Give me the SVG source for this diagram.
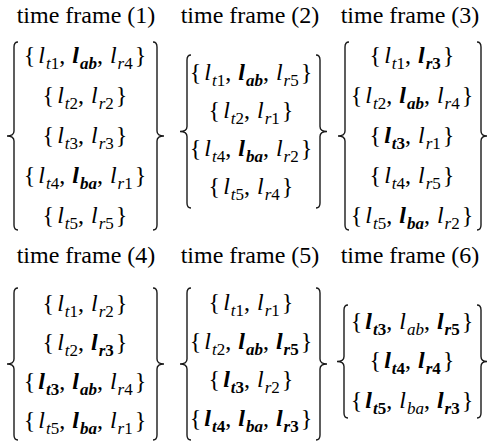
<svg xmlns="http://www.w3.org/2000/svg" width="489" height="443" viewBox="0 0 489 443">
<style>
.t{font-family:"Liberation Serif","Times New Roman",serif;font-size:24px;fill:#000;text-anchor:middle}
.i{font-style:italic}
.b{font-weight:bold}
.s{font-size:17px}
.br{fill:none;stroke:#1a1a1a;stroke-width:1.4}
</style>
<rect width="489" height="443" fill="#fff"/>
<g id="frame1">
<text class="t" x="86" y="23">time frame (1)</text>
<path class="br" d="M18 42 Q14 42 14 47 L14 131 Q14 136 7 136 Q14 136 14 141 L14 225 Q14 230 18 230"/>
<path class="br" d="M153 42 Q157 42 157 47 L157 131 Q157 136 164 136 Q157 136 157 141 L157 225 Q157 230 153 230"/>
<text class="t" x="85" y="63">{<tspan class="i" dx="3">l</tspan><tspan class="s i" dx="1" dy="6">t</tspan><tspan class="s">1</tspan><tspan dy="-6">,</tspan><tspan class="i b" dx="7">l</tspan><tspan class="s i b" dx="1" dy="6">ab</tspan><tspan dy="-6">,</tspan><tspan class="i" dx="7">l</tspan><tspan class="s i" dx="1" dy="6">r</tspan><tspan class="s">4</tspan><tspan dy="-6" dx="2">}</tspan></text>
<text class="t" x="85" y="103">{<tspan class="i" dx="3">l</tspan><tspan class="s i" dx="1" dy="6">t</tspan><tspan class="s">2</tspan><tspan dy="-6">,</tspan><tspan class="i" dx="7">l</tspan><tspan class="s i" dx="1" dy="6">r</tspan><tspan class="s">2</tspan><tspan dy="-6" dx="2">}</tspan></text>
<text class="t" x="85" y="143">{<tspan class="i" dx="3">l</tspan><tspan class="s i" dx="1" dy="6">t</tspan><tspan class="s">3</tspan><tspan dy="-6">,</tspan><tspan class="i" dx="7">l</tspan><tspan class="s i" dx="1" dy="6">r</tspan><tspan class="s">3</tspan><tspan dy="-6" dx="2">}</tspan></text>
<text class="t" x="85" y="183">{<tspan class="i" dx="3">l</tspan><tspan class="s i" dx="1" dy="6">t</tspan><tspan class="s">4</tspan><tspan dy="-6">,</tspan><tspan class="i b" dx="7">l</tspan><tspan class="s i b" dx="1" dy="6">ba</tspan><tspan dy="-6">,</tspan><tspan class="i" dx="7">l</tspan><tspan class="s i" dx="1" dy="6">r</tspan><tspan class="s">1</tspan><tspan dy="-6" dx="2">}</tspan></text>
<text class="t" x="85" y="223">{<tspan class="i" dx="3">l</tspan><tspan class="s i" dx="1" dy="6">t</tspan><tspan class="s">5</tspan><tspan dy="-6">,</tspan><tspan class="i" dx="7">l</tspan><tspan class="s i" dx="1" dy="6">r</tspan><tspan class="s">5</tspan><tspan dy="-6" dx="2">}</tspan></text>
</g>
<g id="frame2">
<text class="t" x="250" y="23">time frame (2)</text>
<path class="br" d="M191 55 Q187 55 187 60 L187 126.5 Q187 131.5 180 131.5 Q187 131.5 187 136.5 L187 203 Q187 208 191 208"/>
<path class="br" d="M316 55 Q320 55 320 60 L320 126.5 Q320 131.5 327 131.5 Q320 131.5 320 136.5 L320 203 Q320 208 316 208"/>
<text class="t" x="251" y="80">{<tspan class="i" dx="3">l</tspan><tspan class="s i" dx="1" dy="6">t</tspan><tspan class="s">1</tspan><tspan dy="-6">,</tspan><tspan class="i b" dx="7">l</tspan><tspan class="s i b" dx="1" dy="6">ab</tspan><tspan dy="-6">,</tspan><tspan class="i" dx="7">l</tspan><tspan class="s i" dx="1" dy="6">r</tspan><tspan class="s">5</tspan><tspan dy="-6" dx="2">}</tspan></text>
<text class="t" x="251" y="118">{<tspan class="i" dx="3">l</tspan><tspan class="s i" dx="1" dy="6">t</tspan><tspan class="s">2</tspan><tspan dy="-6">,</tspan><tspan class="i" dx="7">l</tspan><tspan class="s i" dx="1" dy="6">r</tspan><tspan class="s">1</tspan><tspan dy="-6" dx="2">}</tspan></text>
<text class="t" x="251" y="156">{<tspan class="i" dx="3">l</tspan><tspan class="s i" dx="1" dy="6">t</tspan><tspan class="s">4</tspan><tspan dy="-6">,</tspan><tspan class="i b" dx="7">l</tspan><tspan class="s i b" dx="1" dy="6">ba</tspan><tspan dy="-6">,</tspan><tspan class="i" dx="7">l</tspan><tspan class="s i" dx="1" dy="6">r</tspan><tspan class="s">2</tspan><tspan dy="-6" dx="2">}</tspan></text>
<text class="t" x="251" y="194">{<tspan class="i" dx="3">l</tspan><tspan class="s i" dx="1" dy="6">t</tspan><tspan class="s">5</tspan><tspan dy="-6">,</tspan><tspan class="i" dx="7">l</tspan><tspan class="s i" dx="1" dy="6">r</tspan><tspan class="s">4</tspan><tspan dy="-6" dx="2">}</tspan></text>
</g>
<g id="frame3">
<text class="t" x="410" y="23">time frame (3)</text>
<path class="br" d="M349 42 Q345 42 345 47 L345 131 Q345 136 338 136 Q345 136 345 141 L345 225 Q345 230 349 230"/>
<path class="br" d="M477 42 Q481 42 481 47 L481 131 Q481 136 487 136 Q481 136 481 141 L481 225 Q481 230 477 230"/>
<text class="t" x="412" y="63">{<tspan class="i" dx="3">l</tspan><tspan class="s i" dx="1" dy="6">t</tspan><tspan class="s">1</tspan><tspan dy="-6">,</tspan><tspan class="i b" dx="7">l</tspan><tspan class="s i b" dx="1" dy="6">r</tspan><tspan class="s b">3</tspan><tspan dy="-6" dx="2">}</tspan></text>
<text class="t" x="412" y="103">{<tspan class="i" dx="3">l</tspan><tspan class="s i" dx="1" dy="6">t</tspan><tspan class="s">2</tspan><tspan dy="-6">,</tspan><tspan class="i b" dx="7">l</tspan><tspan class="s i b" dx="1" dy="6">ab</tspan><tspan dy="-6">,</tspan><tspan class="i" dx="7">l</tspan><tspan class="s i" dx="1" dy="6">r</tspan><tspan class="s">4</tspan><tspan dy="-6" dx="2">}</tspan></text>
<text class="t" x="412" y="143">{<tspan class="i b" dx="3">l</tspan><tspan class="s i b" dx="1" dy="6">t</tspan><tspan class="s b">3</tspan><tspan dy="-6">,</tspan><tspan class="i" dx="7">l</tspan><tspan class="s i" dx="1" dy="6">r</tspan><tspan class="s">1</tspan><tspan dy="-6" dx="2">}</tspan></text>
<text class="t" x="412" y="183">{<tspan class="i" dx="3">l</tspan><tspan class="s i" dx="1" dy="6">t</tspan><tspan class="s">4</tspan><tspan dy="-6">,</tspan><tspan class="i" dx="7">l</tspan><tspan class="s i" dx="1" dy="6">r</tspan><tspan class="s">5</tspan><tspan dy="-6" dx="2">}</tspan></text>
<text class="t" x="412" y="223">{<tspan class="i" dx="3">l</tspan><tspan class="s i" dx="1" dy="6">t</tspan><tspan class="s">5</tspan><tspan dy="-6">,</tspan><tspan class="i b" dx="7">l</tspan><tspan class="s i b" dx="1" dy="6">ba</tspan><tspan dy="-6">,</tspan><tspan class="i" dx="7">l</tspan><tspan class="s i" dx="1" dy="6">r</tspan><tspan class="s">2</tspan><tspan dy="-6" dx="2">}</tspan></text>
</g>
<g id="frame4">
<text class="t" x="86" y="263">time frame (4)</text>
<path class="br" d="M18 288 Q14 288 14 293 L14 359 Q14 364 7 364 Q14 364 14 369 L14 435 Q14 440 18 440"/>
<path class="br" d="M153 288 Q157 288 157 293 L157 359 Q157 364 164 364 Q157 364 157 369 L157 435 Q157 440 153 440"/>
<text class="t" x="85" y="311">{<tspan class="i" dx="3">l</tspan><tspan class="s i" dx="1" dy="6">t</tspan><tspan class="s">1</tspan><tspan dy="-6">,</tspan><tspan class="i" dx="7">l</tspan><tspan class="s i" dx="1" dy="6">r</tspan><tspan class="s">2</tspan><tspan dy="-6" dx="2">}</tspan></text>
<text class="t" x="85" y="350">{<tspan class="i" dx="3">l</tspan><tspan class="s i" dx="1" dy="6">t</tspan><tspan class="s">2</tspan><tspan dy="-6">,</tspan><tspan class="i b" dx="7">l</tspan><tspan class="s i b" dx="1" dy="6">r</tspan><tspan class="s b">3</tspan><tspan dy="-6" dx="2">}</tspan></text>
<text class="t" x="85" y="389">{<tspan class="i b" dx="3">l</tspan><tspan class="s i b" dx="1" dy="6">t</tspan><tspan class="s b">3</tspan><tspan dy="-6">,</tspan><tspan class="i b" dx="7">l</tspan><tspan class="s i b" dx="1" dy="6">ab</tspan><tspan dy="-6">,</tspan><tspan class="i" dx="7">l</tspan><tspan class="s i" dx="1" dy="6">r</tspan><tspan class="s">4</tspan><tspan dy="-6" dx="2">}</tspan></text>
<text class="t" x="85" y="428">{<tspan class="i" dx="3">l</tspan><tspan class="s i" dx="1" dy="6">t</tspan><tspan class="s">5</tspan><tspan dy="-6">,</tspan><tspan class="i b" dx="7">l</tspan><tspan class="s i b" dx="1" dy="6">ba</tspan><tspan dy="-6">,</tspan><tspan class="i" dx="7">l</tspan><tspan class="s i" dx="1" dy="6">r</tspan><tspan class="s">1</tspan><tspan dy="-6" dx="2">}</tspan></text>
</g>
<g id="frame5">
<text class="t" x="250" y="263">time frame (5)</text>
<path class="br" d="M191 288 Q187 288 187 293 L187 359 Q187 364 180 364 Q187 364 187 369 L187 435 Q187 440 191 440"/>
<path class="br" d="M316 288 Q320 288 320 293 L320 359 Q320 364 327 364 Q320 364 320 369 L320 435 Q320 440 316 440"/>
<text class="t" x="251" y="310">{<tspan class="i" dx="3">l</tspan><tspan class="s i" dx="1" dy="6">t</tspan><tspan class="s">1</tspan><tspan dy="-6">,</tspan><tspan class="i" dx="7">l</tspan><tspan class="s i" dx="1" dy="6">r</tspan><tspan class="s">1</tspan><tspan dy="-6" dx="2">}</tspan></text>
<text class="t" x="251" y="349">{<tspan class="i" dx="3">l</tspan><tspan class="s i" dx="1" dy="6">t</tspan><tspan class="s">2</tspan><tspan dy="-6">,</tspan><tspan class="i b" dx="7">l</tspan><tspan class="s i b" dx="1" dy="6">ab</tspan><tspan dy="-6">,</tspan><tspan class="i b" dx="7">l</tspan><tspan class="s i b" dx="1" dy="6">r</tspan><tspan class="s b">5</tspan><tspan dy="-6" dx="2">}</tspan></text>
<text class="t" x="251" y="387">{<tspan class="i b" dx="3">l</tspan><tspan class="s i b" dx="1" dy="6">t</tspan><tspan class="s b">3</tspan><tspan dy="-6">,</tspan><tspan class="i" dx="7">l</tspan><tspan class="s i" dx="1" dy="6">r</tspan><tspan class="s">2</tspan><tspan dy="-6" dx="2">}</tspan></text>
<text class="t" x="251" y="426">{<tspan class="i b" dx="3">l</tspan><tspan class="s i b" dx="1" dy="6">t</tspan><tspan class="s b">4</tspan><tspan dy="-6">,</tspan><tspan class="i b" dx="7">l</tspan><tspan class="s i b" dx="1" dy="6">ba</tspan><tspan dy="-6">,</tspan><tspan class="i b" dx="7">l</tspan><tspan class="s i b" dx="1" dy="6">r</tspan><tspan class="s b">3</tspan><tspan dy="-6" dx="2">}</tspan></text>
</g>
<g id="frame6">
<text class="t" x="410" y="263">time frame (6)</text>
<path class="br" d="M348 305 Q344 305 344 310 L344 356.5 Q344 361.5 337 361.5 Q344 361.5 344 366.5 L344 413 Q344 418 348 418"/>
<path class="br" d="M477 305 Q481 305 481 310 L481 356.5 Q481 361.5 487 361.5 Q481 361.5 481 366.5 L481 413 Q481 418 477 418"/>
<text class="t" x="412" y="329">{<tspan class="i b" dx="3">l</tspan><tspan class="s i b" dx="1" dy="6">t</tspan><tspan class="s b">3</tspan><tspan dy="-6">,</tspan><tspan class="i" dx="7">l</tspan><tspan class="s i" dx="1" dy="6">ab</tspan><tspan dy="-6">,</tspan><tspan class="i b" dx="7">l</tspan><tspan class="s i b" dx="1" dy="6">r</tspan><tspan class="s b">5</tspan><tspan dy="-6" dx="2">}</tspan></text>
<text class="t" x="412" y="368">{<tspan class="i b" dx="3">l</tspan><tspan class="s i b" dx="1" dy="6">t</tspan><tspan class="s b">4</tspan><tspan dy="-6">,</tspan><tspan class="i b" dx="7">l</tspan><tspan class="s i b" dx="1" dy="6">r</tspan><tspan class="s b">4</tspan><tspan dy="-6" dx="2">}</tspan></text>
<text class="t" x="412" y="408">{<tspan class="i b" dx="3">l</tspan><tspan class="s i b" dx="1" dy="6">t</tspan><tspan class="s b">5</tspan><tspan dy="-6">,</tspan><tspan class="i" dx="7">l</tspan><tspan class="s i" dx="1" dy="6">ba</tspan><tspan dy="-6">,</tspan><tspan class="i b" dx="7">l</tspan><tspan class="s i b" dx="1" dy="6">r</tspan><tspan class="s b">3</tspan><tspan dy="-6" dx="2">}</tspan></text>
</g>
</svg>
